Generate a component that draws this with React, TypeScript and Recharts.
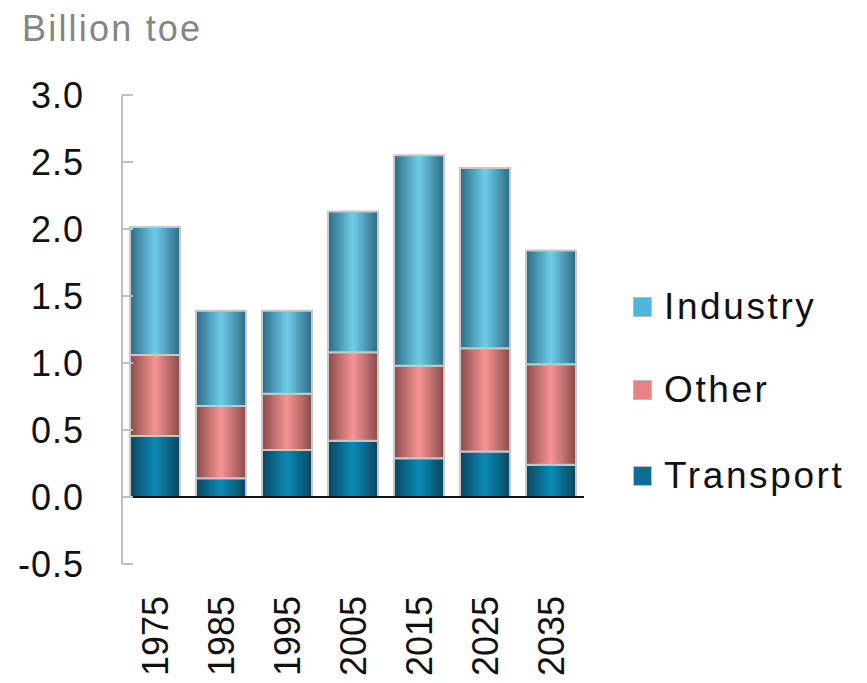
import React from "react";
import {
  BarChart,
  Bar,
  XAxis,
  YAxis,
  ReferenceLine,
} from "recharts";

const years = ["1975", "1985", "1995", "2005", "2015", "2025", "2035"];
const transport = [0.455, 0.14, 0.35, 0.42, 0.29, 0.34, 0.24];
const other = [0.605, 0.54, 0.42, 0.66, 0.69, 0.77, 0.75];
const industry = [0.955, 0.71, 0.62, 1.05, 1.57, 1.345, 0.85];
const yTicks = [-0.5, 0, 0.5, 1, 1.5, 2, 2.5, 3];

const chartData = years.map((year, i) => ({
  year,
  Transport: transport[i],
  Other: other[i],
  Industry: industry[i],
}));

const FONT = "'Liberation Sans', Arial, sans-serif";

const SERIES = [
  { key: "Industry", edge: "#2c6b84", mid: "#6fcdea", swatch: "#4fb6dc" },
  { key: "Other", edge: "#8a4a4a", mid: "#f79494", swatch: "#e88282" },
  { key: "Transport", edge: "#0a4660", mid: "#0b8ab5", swatch: "#0a6f94" },
];

function YTick({ x, y, payload }: any) {
  return (
    <g>
      <line x1={x} x2={x + 11} y1={y} y2={y} stroke="#c0c0c0" strokeWidth={2} />
      <text
        x={x - 38}
        y={y}
        textAnchor="end"
        dominantBaseline="central"
        fontSize={36}
        fontFamily={FONT}
        letterSpacing={1}
        fill="#111"
      >
        {payload.value.toFixed(1)}
      </text>
    </g>
  );
}

function XTick({ x, y, payload }: any) {
  const ty = y + 104;
  return (
    <text
      x={x}
      y={ty}
      transform={`rotate(-90, ${x}, ${ty})`}
      textAnchor="start"
      dominantBaseline="central"
      fontSize={36}
      fontFamily={FONT}
      fill="#111"
    >
      {payload.value}
    </text>
  );
}

function SideLegend() {
  const rows = [
    { label: "Industry", y: 307, color: SERIES[0].swatch },
    { label: "Other", y: 390, color: SERIES[1].swatch },
    { label: "Transport", y: 476, color: SERIES[2].swatch },
  ];
  return (
    <div style={{ position: "absolute", left: 0, top: 0 }}>
      {rows.map((r) => (
        <div
          key={r.label}
          style={{
            position: "absolute",
            left: 633,
            top: r.y - 22,
            height: 44,
            display: "flex",
            alignItems: "center",
            whiteSpace: "nowrap",
          }}
        >
          <span
            style={{
              display: "inline-block",
              width: 17,
              height: 18,
              background: r.color,
              border: "1px solid #bbb",
              marginRight: 12,
            }}
          />
          <span style={{ fontSize: 37, fontFamily: FONT, color: "#111", letterSpacing: 2.6 }}>
            {r.label}
          </span>
        </div>
      ))}
    </div>
  );
}

export default function App() {
  return (
    <div style={{ position: "absolute", left: 0, top: 0, width: 867, height: 683, background: "#fff" }}>
      <div
        style={{
          position: "absolute",
          left: 22,
          top: 8,
          fontSize: 36,
          fontFamily: FONT,
          color: "#858585",
          letterSpacing: 2.2,
        }}
      >
        Billion toe
      </div>
      <BarChart
        width={867}
        height={683}
        data={chartData}
        margin={{ top: 95, right: 283, bottom: 0, left: 0 }}
        barCategoryGap={8}
      >
        <defs>
          {SERIES.map((s) => (
            <linearGradient key={s.key} id={`grad-${s.key}`} x1="0" y1="0" x2="1" y2="0">
              <stop offset="0%" stopColor={s.edge} />
              <stop offset="50%" stopColor={s.mid} />
              <stop offset="100%" stopColor={s.edge} />
            </linearGradient>
          ))}
        </defs>
        <XAxis
          dataKey="year"
          axisLine={false}
          tickLine={false}
          tick={<XTick />}
          interval={0}
          height={119}
        />
        <YAxis
          domain={[-0.5, 3]}
          ticks={yTicks}
          axisLine={{ stroke: "#c0c0c0", strokeWidth: 2 }}
          tickLine={false}
          tickSize={0}
          tickMargin={0}
          tick={<YTick />}
          width={122}
          interval={0}
        />
        <Bar dataKey="Transport" stackId="a" fill="url(#grad-Transport)" stroke="#c8c8c8" strokeWidth={2} isAnimationActive={false} />
        <Bar dataKey="Other" stackId="a" fill="url(#grad-Other)" stroke="#c8c8c8" strokeWidth={2} isAnimationActive={false} />
        <Bar dataKey="Industry" stackId="a" fill="url(#grad-Industry)" stroke="#c8c8c8" strokeWidth={2} isAnimationActive={false} />
        <ReferenceLine y={0} stroke="#111" strokeWidth={2} />
      </BarChart>
      <SideLegend />
    </div>
  );
}
